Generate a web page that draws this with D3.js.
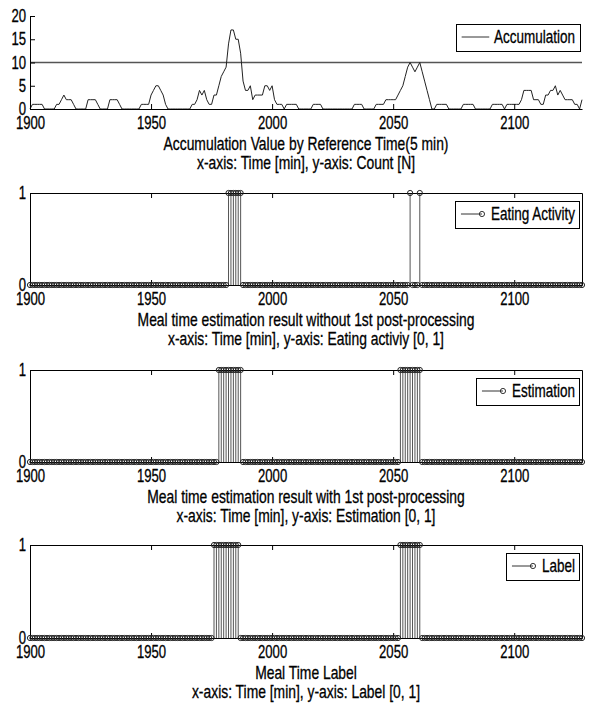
<!DOCTYPE html>
<html><head><meta charset="utf-8">
<script src="https://cdn.jsdelivr.net/npm/d3@7"></script>
<style>
body{margin:0;background:#fff}
svg text{font-family:"Liberation Sans",Arial,Helvetica,sans-serif;fill:#000;stroke:#000;stroke-width:0.3px}
</style>
</head><body>
<svg id="c" width="589" height="703"></svg>
<script>
// ---------- data ----------
const startTime = 1900, endTime = 2128;          // minutes, one sample per minute
const accumulation = [
  0,1,1,1,1,1,0,0,0,0,   // 1900
  0,1,1,2,3,2,2,2,1,0,   // 1910
  0,0,0,0,2,2,2,2,1,0,   // 1920
  0,0,0,2,2,2,2,1,0,0,   // 1930
  0,0,0,0,0,0,1,1,1,1,   // 1940
  3,4,5,5,4,3,1,0,0,0,   // 1950
  0,0,0,0,0,0,0,1,1,2,   // 1960
  4,3,4,2,1,1,3,3,5,7,   // 1970
  8,9,14,17,17,15,15,12,6,4, // 1980
  4,5,2,3,3,3,3,5,5,4,   // 1990
  5,2,1,1,1,0,1,1,1,1,   // 2000
  1,0,0,0,0,0,0,1,1,1,   // 2010
  1,0,0,0,0,0,0,0,0,0,   // 2020
  0,0,0,0,1,1,1,1,0,0,   // 2030
  0,0,0,1,1,1,1,2,2,2,   // 2040
  2,2,3,4,5,7,9,10,9,8,  // 2050
  9,10,8,6,4,2,0,0,1,1,  // 2060
  1,1,1,0,0,0,0,0,0,1,   // 2070
  1,1,1,1,0,0,0,0,0,0,   // 2080
  0,1,1,1,1,1,0,1,1,1,   // 2090
  1,1,1,2,4,4,4,4,2,2,   // 2100
  2,1,1,3,3,4,4,5,3,4,   // 2110
  3,2,2,2,2,1,1,0,2      // 2120-2128
];
const threshold = 10;
// minutes whose value is 1 (all other minutes are 0)
const eatingActivityOnes = [1982,1983,1984,1985,1986,1987,2057,2061];
const estimationOnes = [1978,1979,1980,1981,1982,1983,1984,1985,1986,1987,
                        2053,2054,2055,2056,2057,2058,2059,2060,2061];
const labelOnes = [1976,1977,1978,1979,1980,1981,1982,1983,1984,1985,1986,
                   2053,2054,2055,2056,2057,2058,2059,2060,2061];
const xTicks = [1900,1950,2000,2050,2100];
const accYTicks = [0,5,10,15,20];
const binYTicks = [0,1];
const titles = [
  ["Accumulation Value by Reference Time(5 min)", "x-axis: Time [min], y-axis: Count [N]"],
  ["Meal time estimation result without 1st post-processing", "x-axis: Time [min], y-axis: Eating activiy [0, 1]"],
  ["Meal time estimation result with 1st post-processing", "x-axis: Time [min], y-axis: Estimation [0, 1]"],
  ["Meal Time Label", "x-axis: Time [min], y-axis: Label [0, 1]"]
];
const legendNames = ["Accumulation","Eating Activity","Estimation","Label"];

// ---------- layout ----------
const SX = 0.75;            // horizontal text compression seen in the reference
const LEFT = 30, RIGHT = 582;
const panels = [
  {top:16,  bottom:109},
  {top:193, bottom:285},
  {top:370, bottom:462},
  {top:545, bottom:638}
];
const svg = d3.select('#c');
const times = d3.range(startTime, endTime + 1);
const x = d3.scaleLinear().domain([startTime, endTime]).range([LEFT, RIGHT]);

function styleAxis(g, labels){
  g.attr('font-family', null).attr('font-size', null);
  g.selectAll('.domain').attr('stroke','#000');
  g.selectAll('.tick line').attr('stroke','#000');
  g.selectAll('.tick text')
    .attr('font-size', 17.5)
    .attr('fill','#000')
    .attr('transform', `scale(${SX},1)`);
  if(!labels) g.selectAll('.tick text').remove();
}

function drawTitle(p, lines){
  const cx = (LEFT + RIGHT) / 2;
  lines.forEach((s,i) => {
    svg.append('text')
      .attr('text-anchor','middle')
      .attr('font-size', 18.5)
      .attr('transform', `translate(${cx},${p.bottom + 40.5 + i*19.5}) scale(${SX},1)`)
      .text(s);
  });
}

function drawLegend(p, label, kind){
  const g = svg.append('g');
  const right = 579.5, top = p.top + 7.5, h = 27, cy = top + h/2;
  const t = g.append('text').attr('font-size', 18).text(label);
  const tw = t.node().getComputedTextLength() * SX;
  const textStart = right - 4.5 - tw;
  t.attr('transform', `translate(${textStart},${cy + 6.3}) scale(${SX},1)`);
  let left;
  if(kind === 'line'){
    const le = textStart - 4.7, ls = le - 27.6;
    g.append('line').attr('x1',ls).attr('x2',le).attr('y1',cy).attr('y2',cy)
      .attr('stroke','#333').attr('stroke-width',1);
    left = ls - 6;
  } else {
    const cxm = textStart - 9, ls = cxm - 21;
    g.append('line').attr('x1',ls).attr('x2',cxm).attr('y1',cy).attr('y2',cy)
      .attr('stroke','#333').attr('stroke-width',1);
    g.append('circle').attr('cx',cxm).attr('cy',cy).attr('r',2.6)
      .attr('fill','none').attr('stroke','#333').attr('stroke-width',1);
    left = ls - 5.5;
  }
  g.insert('rect', ':first-child')
    .attr('x', Math.round(left) + 0.5).attr('y', Math.round(top) + 0.5)
    .attr('width', Math.round(right - left)).attr('height', h)
    .attr('fill','#fff').attr('stroke','#000').attr('stroke-width',1);
}

// ---------- panel 1: accumulation ----------
{
  const p = panels[0];
  const y = d3.scaleLinear().domain([0,20]).range([p.bottom, p.top]);
  svg.append('line')
    .attr('x1', x(startTime)).attr('x2', x(endTime))
    .attr('y1', y(threshold)).attr('y2', y(threshold))
    .attr('stroke','#555').attr('stroke-width',1.7);
  svg.append('path')
    .datum(times.map((t,i) => [t, accumulation[i]]))
    .attr('fill','none').attr('stroke','#222').attr('stroke-width',1)
    .attr('d', d3.line().x(d => x(d[0])).y(d => y(d[1])));
  const gx = svg.append('g').attr('transform',`translate(0,${p.bottom})`)
    .call(d3.axisBottom(x).tickValues(xTicks).tickFormat(d3.format('d'))
      .tickSizeInner(-5).tickSizeOuter(0).tickPadding(7.5));
  styleAxis(gx, true);
  const gy = svg.append('g').attr('transform',`translate(${LEFT},0)`)
    .call(d3.axisLeft(y).tickValues(accYTicks).tickFormat(d3.format('d'))
      .tickSizeInner(-5).tickSizeOuter(0).tickPadding(5.3));
  styleAxis(gy, true);
  drawTitle(p, titles[0]);
  drawLegend(p, legendNames[0], 'line');
}

// ---------- panels 2-4: stem plots ----------
[eatingActivityOnes, estimationOnes, labelOnes].forEach((ones, k) => {
  const p = panels[k+1];
  const y = d3.scaleLinear().domain([0,1]).range([p.bottom, p.top]);
  const set = new Set(ones);
  const data = times.map(t => ({t, v: set.has(t) ? 1 : 0}));
  const g = svg.append('g');
  g.selectAll('line.stem').data(data.filter(d => d.v !== 0)).join('line')
    .attr('class','stem')
    .attr('x1', d => x(d.t)).attr('x2', d => x(d.t))
    .attr('y1', y(0)).attr('y2', d => y(d.v))
    .attr('stroke','#555').attr('stroke-width',1);
  // axes / box
  const gx = svg.append('g').attr('transform',`translate(0,${p.bottom})`)
    .call(d3.axisBottom(x).tickValues(xTicks).tickFormat(d3.format('d'))
      .tickSizeInner(-5).tickSizeOuter(0).tickPadding(7.5));
  styleAxis(gx, true);
  const gt = svg.append('g').attr('transform',`translate(0,${p.top})`)
    .call(d3.axisTop(x).tickValues(xTicks).tickSizeInner(-5).tickSizeOuter(0));
  styleAxis(gt, false);
  const gy = svg.append('g').attr('transform',`translate(${LEFT},0)`)
    .call(d3.axisLeft(y).tickValues(binYTicks).tickFormat(d3.format('d'))
      .tickSizeInner(-5).tickSizeOuter(0).tickPadding(5.3));
  styleAxis(gy, true);
  const gr = svg.append('g').attr('transform',`translate(${RIGHT},0)`)
    .call(d3.axisRight(y).tickValues(binYTicks).tickSizeInner(-5).tickSizeOuter(0));
  styleAxis(gr, false);
  // markers
  svg.append('g').selectAll('circle').data(data).join('circle')
    .attr('cx', d => x(d.t)).attr('cy', d => y(d.v)).attr('r', 2.6)
    .attr('fill','none').attr('stroke','#222').attr('stroke-width',1);
  drawTitle(p, titles[k+1]);
  drawLegend(p, legendNames[k+1], 'stem');
});
</script>
</body></html>
